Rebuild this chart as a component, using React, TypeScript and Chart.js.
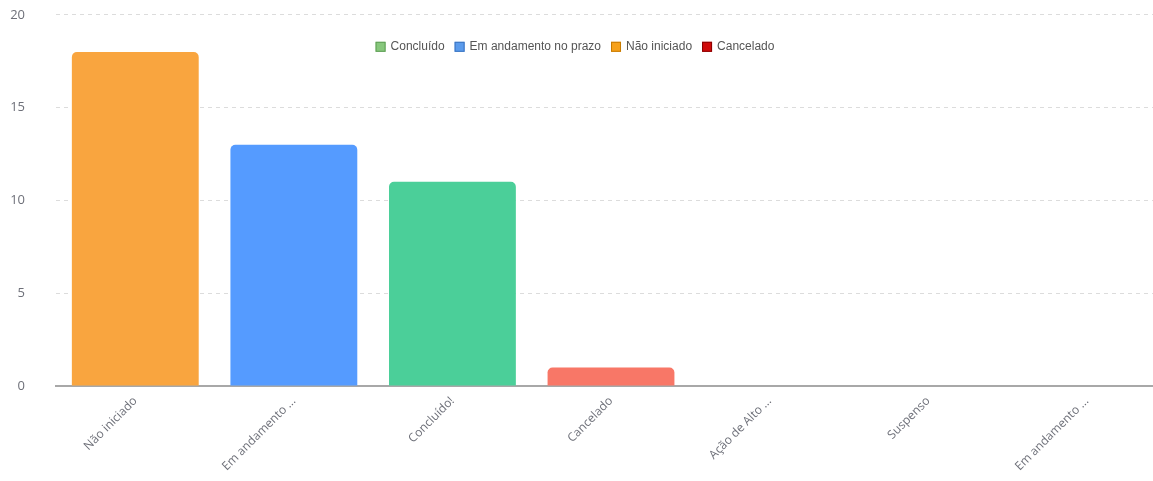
import React, { useEffect, useRef } from "react";
import { Chart, registerables } from "chart.js";

Chart.register(...registerables);

const categories = [
  "Não iniciado",
  "Em andamento ...",
  "Concluído!",
  "Cancelado",
  "Ação de Alto ...",
  "Suspenso",
  "Em andamento ...",
];
const values = [18, 13, 11, 1, 0, 0, 0];
const barColors = ["#f9a53f", "#559bff", "#4bcf99", "#f87767", "#9aa0a6", "#9aa0a6", "#9aa0a6"];

const legendLabels = ["Concluído", "Em andamento no prazo", "Não iniciado", "Cancelado"];
const legendFill = ["#87c77c", "#5b9bec", "#f7a11a", "#d00a0a"];
const legendBorder = ["#5f9e55", "#3a73c0", "#c77a00", "#8a0000"];

const yTicks = [0, 5, 10, 15, 20];

const legendPlugin = {
  id: "customLegend",
  afterDraw(chart: any) {
    const ctx = chart.ctx;
    ctx.save();
    ctx.font = "12px 'Liberation Sans', Arial, sans-serif";
    ctx.textBaseline = "middle";
    const box = 10;
    const gapBoxText = 5;
    const gapItems = 10;
    const widths = legendLabels.map((t) => ctx.measureText(t).width);
    const total =
      widths.reduce((a, b) => a + b, 0) +
      legendLabels.length * (box + gapBoxText) +
      (legendLabels.length - 1) * gapItems;
    let x = 575 - total / 2;
    const y = chart.chartArea.top + 32;
    legendLabels.forEach((t, i) => {
      ctx.fillStyle = legendFill[i];
      ctx.fillRect(x, y - box / 2, box, box);
      ctx.strokeStyle = legendBorder[i];
      ctx.lineWidth = 1;
      ctx.strokeRect(x + 0.5, y - box / 2 + 0.5, box - 1, box - 1);
      x += box + gapBoxText;
      ctx.fillStyle = "#555555";
      ctx.fillText(t, x, y);
      x += widths[i] + gapItems;
    });
    ctx.restore();
  },
};

export default function App() {
  const ref = useRef<HTMLCanvasElement | null>(null);
  useEffect(() => {
    if (!ref.current) return;
    const chart = new Chart(ref.current, {
      type: "bar",
      data: {
        labels: categories,
        datasets: [
          {
            data: values,
            backgroundColor: barColors,
            borderRadius: { topLeft: 5, topRight: 5, bottomLeft: 0, bottomRight: 0 },
            borderSkipped: "bottom",
            barPercentage: 0.8,
            categoryPercentage: 1,
          },
        ],
      },
      options: {
        animation: false,
        responsive: true,
        maintainAspectRatio: false,
        layout: { padding: { top: 14, left: 0, right: 0, bottom: 0 } },
        plugins: {
          legend: { display: false },
          tooltip: { enabled: false },
        },
        scales: {
          x: {
            afterFit: (scale: any) => {
              scale.height = 95;
            },
            grid: { display: true, drawOnChartArea: false, drawTicks: false },
            border: { display: true, color: "#a8a8a8", width: 2 },
            ticks: {
              minRotation: 45,
              maxRotation: 45,
              padding: 8,
              color: "#6e7079",
              font: { family: "'Open Sans', sans-serif", size: 12 },
            },
          },
          y: {
            min: 0,
            max: 20,
            afterFit: (scale: any) => {
              scale.width = 56;
            },
            afterBuildTicks: (scale: any) => {
              scale.ticks = yTicks.map((v) => ({ value: v }));
            },
            grid: { color: "#dcdcdc", drawTicks: false },
            border: { display: false, dash: [4, 4] },
            ticks: {
              padding: 31,
              color: "#6e7079",
              font: { family: "'Open Sans', sans-serif", size: 13 },
            },
          },
        },
      },
      plugins: [legendPlugin],
    });
    return () => chart.destroy();
  }, []);
  return (
    <div style={{ position: "fixed", top: 0, left: 0, width: 1153, height: 481, overflow: "hidden", background: "#fff" }}>
      <div style={{ position: "absolute", top: -24, left: 0, width: 1166, height: 505 }}>
        <canvas ref={ref} />
      </div>
    </div>
  );
}
